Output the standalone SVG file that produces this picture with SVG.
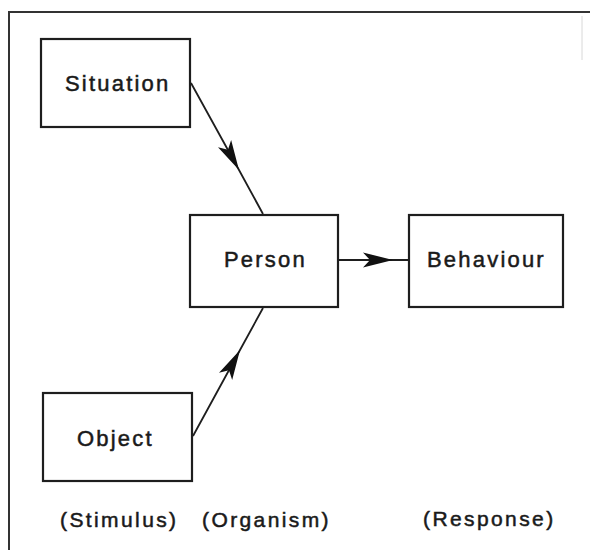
<svg xmlns="http://www.w3.org/2000/svg" width="590" height="550" viewBox="0 0 590 550">
  <defs>
    <style>
      .box { fill: #ffffff; stroke: #1e1e1e; stroke-width: 2.2; }
      .lbl { font-family: "Liberation Sans", Arial, sans-serif; font-size: 22px; letter-spacing: 2.2px; fill: #1a1a1a; stroke: #1a1a1a; stroke-width: 0.5; }
      .cap { font-family: "Liberation Sans", Arial, sans-serif; font-size: 21px; letter-spacing: 2.4px; fill: #1a1a1a; stroke: #1a1a1a; stroke-width: 0.5; }
      .edge { fill: none; stroke: #1e1e1e; stroke-width: 1.8; marker-mid: url(#head); }
      .frame { fill: none; stroke: #333333; stroke-width: 2; }
    </style>
    <marker id="head" markerUnits="userSpaceOnUse" orient="auto" refX="0" refY="0" markerWidth="40" markerHeight="20" viewBox="-34 -10 36 20" overflow="visible">
      <path d="M0,0 L-30,-7.5 L-23,0 L-30,7.5 Z" fill="#111111"/>
    </marker>
  </defs>

  <rect width="590" height="550" fill="#ffffff"/>

  <!-- frame: top and left rules, faint right rule -->
  <path class="frame" d="M9,550 L9,12 L590,12"/>
  <line x1="582" y1="16" x2="582" y2="60" stroke="#d8d8d8" stroke-width="1"/>

  <g id="connectors">
    <polyline class="edge" points="191,83 239,170 263,214"/>
    <polyline class="edge" points="193,436 240,350 263,308"/>
    <polyline class="edge" points="339,260 393,260 409,260"/>
  </g>

  <g id="situation">
    <rect class="box" x="41" y="39" width="149" height="88"/>
    <text class="lbl" x="65" y="91">Situation</text>
  </g>

  <g id="person">
    <rect class="box" x="190" y="215" width="148" height="92"/>
    <text class="lbl" x="224" y="267">Person</text>
  </g>

  <g id="behaviour">
    <rect class="box" x="409" y="215" width="154" height="92"/>
    <text class="lbl" x="427" y="267">Behaviour</text>
  </g>

  <g id="object">
    <rect class="box" x="43" y="393" width="149" height="88"/>
    <text class="lbl" x="77" y="446">Object</text>
  </g>

  <g id="captions">
    <text class="cap" x="60" y="527">(Stimulus)</text>
    <text class="cap" x="202" y="527">(Organism)</text>
    <text class="cap" x="423" y="526">(Response)</text>
  </g>
</svg>
